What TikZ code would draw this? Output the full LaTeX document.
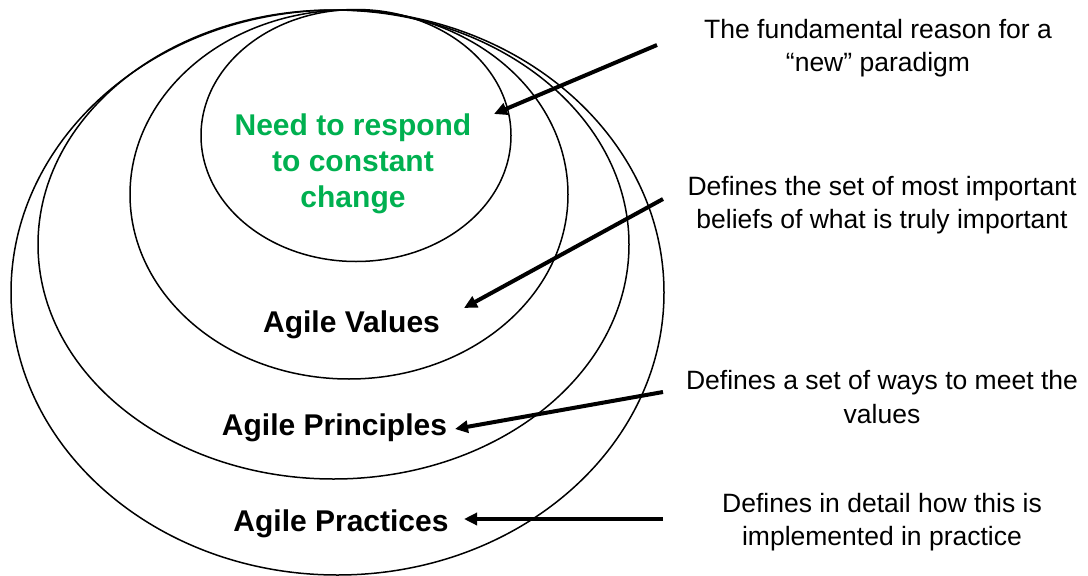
\documentclass[tikz,border=0pt]{standalone}
\usepackage{fontspec}
\setmainfont{Liberation Sans}
\usetikzlibrary{arrows.meta}
\definecolor{agilegreen}{RGB}{0,176,80}
\tikzset{
  ring/.style={draw=black, line width=1.5pt},
  layerlabel/.style={font=\fontsize{30}{36}\selectfont\bfseries, align=center, inner sep=0pt},
  note/.style={font=\fontsize{26.5}{33.5}\selectfont, align=center, inner sep=0pt},
  pointer/.style={line width=4pt, -{Triangle[length=13pt,width=12pt]}, shorten >=0pt}
}
\begin{document}
\begin{tikzpicture}[x=1pt,y=-1pt]
\path[use as bounding box] (0,0) rectangle (1088,576);
% rings
\draw[ring] (337.5,292.5) ellipse [x radius=326.5pt, y radius=282.5pt];
\draw[ring] (333.5,244.5) ellipse [x radius=295.5pt, y radius=234.5pt];
\draw[ring] (349,194.5) ellipse [x radius=219pt, y radius=184.5pt];
\draw[ring] (356,135.5) ellipse [x radius=155pt, y radius=126pt];
% labels
\node[layerlabel, text=agilegreen] (need) at (353,164) {Need to respond\\to constant\\change};
\node[layerlabel] (values) at (351.5,325) {Agile Values};
\node[layerlabel] (principles) at (334.5,428) {Agile Principles};
\node[layerlabel] (practices) at (341,524) {Agile Practices};
% notes
\node[note] (n1) at (878,48) {The fundamental reason for a\\“new” paradigm};
\node[note] (n2) at (882,205) {Defines the set of most important\\beliefs of what is truly important};
\node[note] (n3) at (882,397) {Defines a set of ways to meet the\\values};
\node[note] (n4) at (882,522) {Defines in detail how this is\\implemented in practice};
% arrow endpoints
\coordinate (s1) at (657,45);
\coordinate (t1) at (494,114);
\coordinate (s2) at (663,199);
\coordinate (t2) at (464,308);
\coordinate (s3) at (663,392);
\coordinate (t3) at (455,429);
\coordinate (s4) at (663,519);
\coordinate (t4) at (464,519);
\draw[pointer] (s1) -- (t1);
\draw[pointer] (s2) -- (t2);
\draw[pointer] (s3) -- (t3);
\draw[pointer] (s4) -- (t4);
\end{tikzpicture}
\end{document}
